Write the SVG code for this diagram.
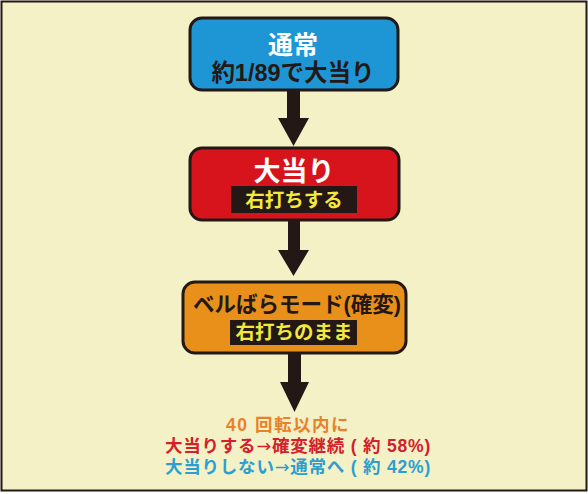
<svg xmlns="http://www.w3.org/2000/svg" width="588" height="494" viewBox="0 0 588 494">
<style>
.box{stroke:#231815;stroke-width:3}
.t{font-family:"Liberation Sans","Noto Sans CJK JP",sans-serif;font-weight:bold;text-anchor:middle}
.r{font-size:17.5px;letter-spacing:0.8px}
.ar{font-family:"DejaVu Sans",sans-serif;font-weight:normal}
.arr{fill:#231815}
</style>
<rect x="1.5" y="1.5" width="585" height="489" fill="#f5f1c7" stroke="#231815" stroke-width="2"/>
<g id="connectors">
<polygon class="arr" points="287,89 300,89 300,118 309,118 293.5,146 278,118 287,118"/>
<polygon class="arr" points="288,220 300,220 300,250 309,250 293.5,276 278,250 288,250"/>
<polygon class="arr" points="288,353 301,353 301,382 309,382 294.5,412 280,382 288,382"/>
</g>
<g id="node-normal">
<rect class="box" x="190" y="18" width="208" height="72" rx="12" fill="#1e95d4"/>
<text class="t" x="293" y="54" font-size="25" fill="#ffffff">通常</text>
<text class="t" x="293" y="81" font-size="23.5" fill="#231815">約1/89で大当り</text>
</g>
<g id="node-jackpot">
<rect class="box" x="190" y="148" width="209" height="72" rx="12" fill="#d7141c"/>
<text class="t" x="294" y="181" font-size="27" fill="#ffffff">大当り</text>
<rect x="231" y="186" width="126" height="27" fill="#231815"/>
<text class="t" x="294" y="207" font-size="19.5" fill="#f2e93a">右打ちする</text>
</g>
<g id="node-bellbara">
<rect class="box" x="183" y="282" width="223" height="71" rx="12" fill="#e8901a"/>
<text class="t" x="297" y="312" font-size="21.5" fill="#231815">ベルばらモード(確変)</text>
<rect x="230" y="320" width="127" height="25" fill="#231815"/>
<text class="t" x="294" y="339" font-size="19.5" fill="#f2e93a">右打ちのまま</text>
</g>
<g id="result-text">
<text class="t r" x="288" y="431" fill="#e8822a" style="letter-spacing:1.5px">40 回転以内に</text>
<text class="t r" x="298" y="452" fill="#d4202a">大当りする<tspan class="ar">→</tspan>確変継続 ( 約 58%)</text>
<text class="t r" x="298" y="473" fill="#2a9fd0">大当りしない<tspan class="ar">→</tspan>通常へ ( 約 42%)</text>
</g>
</svg>
